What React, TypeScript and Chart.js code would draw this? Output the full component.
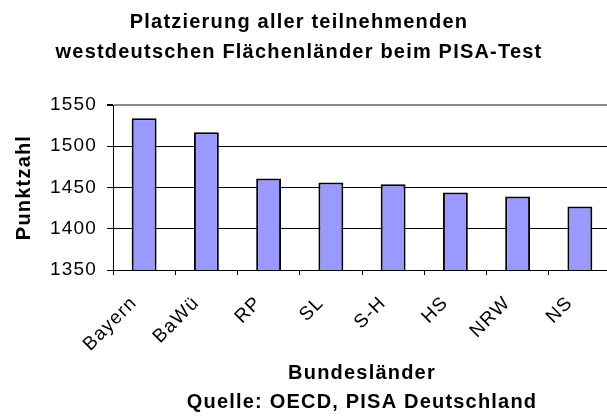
import React, { useEffect, useRef } from 'react';
import { Chart, registerables } from 'chart.js';

Chart.register(...registerables);

const categories = ['Bayern', 'BaWü', 'RP', 'SL', 'S-H', 'HS', 'NRW', 'NS'];
const scores = [1534, 1517, 1461, 1456, 1454, 1444, 1439, 1427];
const yTicks = [1350, 1400, 1450, 1500, 1550];
const titleLines = ['Platzierung aller teilnehmenden', 'westdeutschen Flächenländer beim PISA-Test'];
const xTitleLines = ['Bundesländer', 'Quelle: OECD, PISA Deutschland'];
const yTitle = 'Punktzahl';

const FONT = '"Liberation Sans", Arial, Helvetica, sans-serif';
const SPACING = '1.2px';
const TITLE_X = 299;
const TITLE_BASE = 27.5;
const TITLE_GAP = 30.5;

const textPlugin = {
  id: 'textStyle',
  beforeUpdate(chart: any) {
    chart.ctx.letterSpacing = SPACING;
  },
  beforeLayout(chart: any) {
    chart.ctx.letterSpacing = SPACING;
  },
  beforeDraw(chart: any) {
    chart.ctx.letterSpacing = SPACING;
  },
  afterDraw(chart: any) {
    const ctx = chart.ctx;
    ctx.save();
    ctx.letterSpacing = SPACING;
    ctx.font = `bold 20px ${FONT}`;
    ctx.fillStyle = '#000';
    ctx.textAlign = 'center';
    ctx.textBaseline = 'alphabetic';
    titleLines.forEach((t, i) => ctx.fillText(t, TITLE_X, TITLE_BASE + i * TITLE_GAP));
    ctx.restore();
  },
};

export default function App() {
  const ref = useRef<HTMLCanvasElement | null>(null);

  useEffect(() => {
    if (!ref.current) return;
    Chart.defaults.font.family = FONT;
    Chart.defaults.color = '#000';
    const chart = new Chart(ref.current, {
      type: 'bar',
      data: {
        labels: categories,
        datasets: [
          {
            data: scores,
            backgroundColor: '#9999FF',
            borderColor: '#000000',
            borderWidth: 2,
            categoryPercentage: 1,
            barPercentage: 0.4,
          },
        ],
      },
      options: {
        responsive: false,
        animation: false,
        devicePixelRatio: 1,
        layout: { padding: { left: 12, right: 9, top: 105, bottom: 0 } },
        plugins: {
          legend: { display: false },
          tooltip: { enabled: false },
          title: { display: false },
        },
        scales: {
          x: {
            grid: {
              offset: true,
              drawOnChartArea: false,
              drawTicks: true,
              tickLength: 5,
              tickColor: '#000',
            },
            border: { display: true, color: '#000', width: 1 },
            ticks: {
              minRotation: 45,
              maxRotation: 45,
              autoSkip: false,
              padding: 17,
              labelOffset: -10,
              color: '#000',
              font: { size: 19, family: FONT },
            },
            title: {
              display: true,
              text: xTitleLines,
              color: '#000',
              font: { size: 20, weight: 'bold', family: FONT, lineHeight: 1.45 },
              padding: { top: 0, bottom: 0 },
            },
            afterFit: (s: any) => {
              s.height = 147;
            },
          },
          y: {
            min: 1350,
            max: 1550,
            afterBuildTicks: (s: any) => {
              s.ticks = yTicks.map((v) => ({ value: v }));
            },
            grid: {
              color: (c: any) => (c.tick && c.tick.value === 1550 ? '#8c8c8c' : '#000'),
              lineWidth: (c: any) => (c.tick && c.tick.value === 1550 ? 2 : 1),
              drawTicks: true,
              tickLength: 6,
              tickColor: '#000',
            },
            border: { display: true, color: '#000', width: 1 },
            ticks: {
              padding: 10,
              color: '#000',
              font: { size: 19, family: FONT },
              callback: (v: any) => String(v),
            },
            title: {
              display: true,
              text: yTitle,
              color: '#000',
              font: { size: 20, weight: 'bold', family: FONT, lineHeight: 1.2 },
              padding: { top: 0, bottom: 0 },
            },
            afterFit: (s: any) => {
              s.width = 101;
            },
          },
        },
      },
      plugins: [textPlugin],
    } as any);
    return () => chart.destroy();
  }, []);

  return (
    <div
      style={{
        position: 'fixed',
        left: 0,
        top: 0,
        width: 607,
        height: 417,
        overflow: 'hidden',
        background: '#fff',
      }}
    >
      <canvas ref={ref} width={620} height={417} style={{ display: 'block' }} />
    </div>
  );
}
